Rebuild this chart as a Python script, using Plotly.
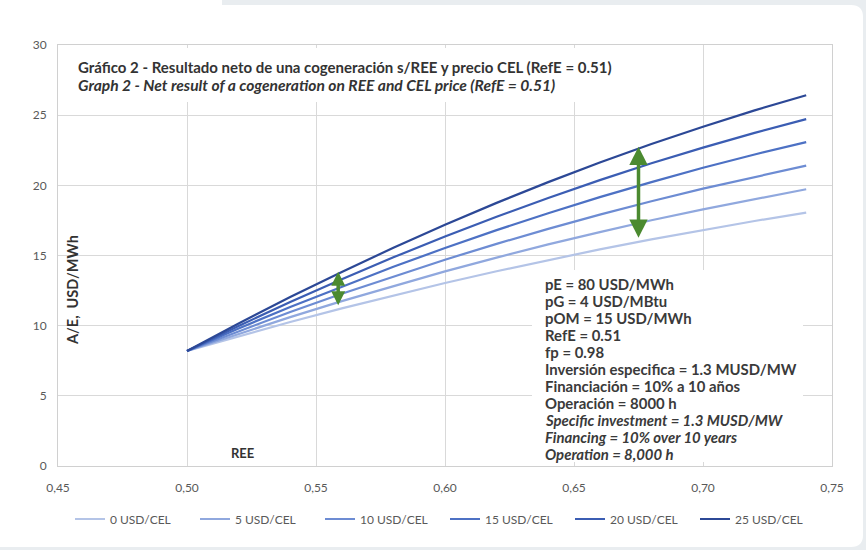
import plotly.graph_objects as go

# ---------------- data ----------------
ree = [0.50, 0.52, 0.54, 0.56, 0.58, 0.60, 0.62, 0.64, 0.66, 0.68, 0.70, 0.72, 0.74]

series_names = ["0 USD/CEL", "5 USD/CEL", "10 USD/CEL", "15 USD/CEL", "20 USD/CEL", "25 USD/CEL"]

cel_0 = [8.20, 9.25, 10.26, 11.23, 12.15, 13.04, 13.88, 14.68, 15.44, 16.15, 16.83, 17.46, 18.05]
cel_5 = [8.20, 9.43, 10.61, 11.75, 12.83, 13.87, 14.85, 15.79, 16.67, 17.51, 18.29, 19.03, 19.72]
cel_10 = [8.20, 9.61, 10.97, 12.27, 13.51, 14.70, 15.83, 16.90, 17.91, 18.87, 19.77, 20.61, 21.40]
cel_15 = [8.20, 9.80, 11.33, 12.79, 14.20, 15.53, 16.81, 18.01, 19.16, 20.23, 21.25, 22.20, 23.08]
cel_20 = [8.20, 9.98, 11.68, 13.31, 14.87, 16.35, 17.76, 19.10, 20.37, 21.57, 22.69, 23.74, 24.72]
cel_25 = [8.20, 10.16, 12.04, 13.83, 15.55, 17.19, 18.75, 20.23, 21.63, 22.94, 24.18, 25.34, 26.42]

series_values = [cel_0, cel_5, cel_10, cel_15, cel_20, cel_25]

# green double arrows: (REE, lower end, upper end)
arrow_x = [0.5586, 0.675]
arrow_low = [11.35, 16.15]
arrow_high = [13.85, 22.75]

x_ticks = [0.45, 0.50, 0.55, 0.60, 0.65, 0.70, 0.75]
y_ticks = [0, 5, 10, 15, 20, 25, 30]

title_es = "Gráfico 2 - Resultado neto de una cogeneración s/REE y precio CEL (RefE = 0.51)"
title_en = "Graph 2 - Net result of a cogeneration on REE and CEL price (RefE = 0.51)"
params_es = ["pE = 80 USD/MWh", "pG = 4 USD/MBtu", "pOM = 15 USD/MWh", "RefE = 0.51", "fp = 0.98",
             "Inversión especifica = 1.3 MUSD/MW", "Financiación = 10% a 10 años", "Operación = 8000 h"]
params_en = ["Specific investment = 1.3 MUSD/MW", "Financing = 10% over 10 years", "Operation = 8,000 h"]

# ---------------- styling ----------------
colors = ["#b4c4e7", "#90a8de", "#6d8cd3", "#4d71c4", "#3b5db3", "#2c4896"]
green = "#4b8a30"
arrow_sizes = [0.8, 1.05]
FONT = "Lato"
W, H = 866, 550
L, R, T, B = 58, 832, 45, 466  # plot-area pixel edges

def px(xp):
    return (xp - L) / (R - L)

def py(yp):
    return (B - yp) / (B - T)

def dx(xp):
    return 0.45 + (xp - L) / (R - L) * 0.30

def dy(yp):
    return (B - yp) / (B - T) * 30

fig = go.Figure()
for name, vals, col in zip(series_names, series_values, colors):
    fig.add_trace(go.Scatter(x=ree, y=vals, mode="lines", name=name,
                             line=dict(color=col, width=2.2)))

shapes = []
# card background (gray page, white rounded card)
r = 12
x0, x1, y0, y1 = -20, 863, 5, 547
path = (f"M {px(x0)},{py(y0)} L {px(x1 - r)},{py(y0)} "
        f"Q {px(x1)},{py(y0)} {px(x1)},{py(y0 + r)} "
        f"L {px(x1)},{py(y1 - r)} Q {px(x1)},{py(y1)} {px(x1 - r)},{py(y1)} "
        f"L {px(x0)},{py(y1)} Z")
shapes.append(dict(type="path", path=path, xref="paper", yref="paper",
                   fillcolor="white", line=dict(width=0), layer="below"))
shapes.append(dict(type="rect", xref="paper", yref="paper", x0=px(-5), x1=px(222), y0=py(-5), y1=py(6),
                   fillcolor="white", line=dict(width=0), layer="below"))
# white text boxes hiding the grid
shapes.append(dict(type="rect", xref="x", yref="y", x0=dx(63), x1=dx(628), y0=dy(102), y1=dy(48),
                   fillcolor="white", line=dict(width=0), layer="between"))
shapes.append(dict(type="rect", xref="x", yref="y", x0=dx(532), x1=dx(803), y0=dy(462), y1=dy(270),
                   fillcolor="white", line=dict(width=0), layer="between"))
shapes.append(dict(type="rect", xref="x", yref="y", x0=dx(222), x1=dx(262), y0=dy(462), y1=dy(443),
                   fillcolor="white", line=dict(width=0), layer="between"))

annotations = []
annotations.append(dict(xref="paper", yref="paper", x=px(76), y=py(67), xanchor="left", yanchor="middle",
                        align="left", showarrow=False, text=f"<b>{title_es}</b>",
                        font=dict(family=FONT, size=15, color="#333333")))
annotations.append(dict(xref="paper", yref="paper", x=px(76), y=py(85), xanchor="left", yanchor="middle",
                        align="left", showarrow=False, text=f"<b><i>{title_en}</i></b>",
                        font=dict(family=FONT, size=15.6, color="#333333")))
param_lines = [f"<b>{t}</b>" for t in params_es] + [f"<b><i>{t}</i></b>" for t in params_en]
for i, t in enumerate(param_lines):
    annotations.append(dict(xref="paper", yref="paper", x=px(543), y=py(284 + 17 * i),
                            xanchor="left", yanchor="middle", align="left", showarrow=False, text=t,
                            font=dict(family=FONT, size=14.9, color="#3a3a3a")))
annotations.append(dict(xref="paper", yref="paper", x=px(72), y=py(290), xanchor="center", yanchor="middle",
                        textangle=-90, showarrow=False, text="<b>A/E,  USD/MWh</b>",
                        font=dict(family=FONT, size=14.5, color="#333333")))
annotations.append(dict(xref="paper", yref="paper", x=px(242), y=py(453), xanchor="center", yanchor="middle",
                        showarrow=False, text="<b>REE</b>",
                        font=dict(family=FONT, size=13, color="#333333")))
for ax_, lo, hi, sz in zip(arrow_x, arrow_low, arrow_high, arrow_sizes):
    annotations.append(dict(xref="x", yref="y", axref="x", ayref="y", x=ax_, y=hi, ax=ax_, ay=lo,
                            text="", showarrow=True, arrowhead=2, arrowside="end+start",
                            arrowsize=sz, arrowwidth=3.5, arrowcolor=green, standoff=0, startstandoff=0))

fig.update_layout(
    width=W, height=H,
    margin=dict(l=L, r=W - R, t=T, b=H - B, autoexpand=False),
    paper_bgcolor="#e9edf0",
    plot_bgcolor="rgba(0,0,0,0)",
    separators=",.",
    font=dict(family=FONT, color="#595959", size=12),
    showlegend=True,
    legend=dict(orientation="h", x=px(445), xanchor="center", y=py(519), yanchor="middle",
                font=dict(family=FONT, size=12, color="#595959"),
                entrywidth=80, entrywidthmode="pixels", itemwidth=30,
                bgcolor="rgba(0,0,0,0)"),
    shapes=shapes,
    annotations=annotations,
    xaxis=dict(range=[0.45, 0.75], tickvals=x_ticks, tickformat=".2f", showgrid=True,
               gridcolor="#d9d9d9", gridwidth=1, zeroline=False, showline=True, mirror=True,
               linecolor="#d0d0d0", linewidth=1, ticks="", ticklabelstandoff=11,
               tickfont=dict(family=FONT, size=12, color="#595959")),
    yaxis=dict(range=[0, 30], tickvals=y_ticks, showgrid=True, gridcolor="#d9d9d9", gridwidth=1,
               zeroline=False, showline=True, mirror=True, linecolor="#d0d0d0", linewidth=1,
               ticks="", ticklabelstandoff=8,
               tickfont=dict(family=FONT, size=12, color="#595959")),
)

fig.write_html("out.html", config={"displayModeBar": False},
               post_script="document.body.style.margin='0';document.body.style.overflow='hidden';")
